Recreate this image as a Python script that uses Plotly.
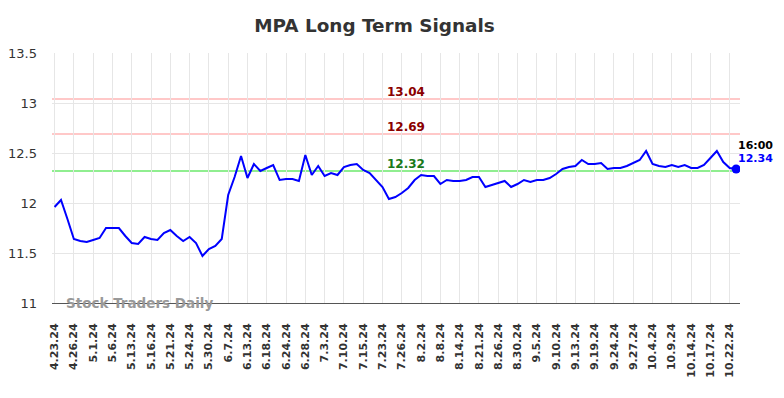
import plotly.graph_objects as go

tick_labels = ["4.23.24", "4.26.24", "5.1.24", "5.6.24", "5.13.24", "5.16.24", "5.21.24", "5.24.24",
               "5.30.24", "6.7.24", "6.13.24", "6.18.24", "6.24.24", "6.28.24", "7.3.24", "7.10.24",
               "7.15.24", "7.23.24", "7.26.24", "8.2.24", "8.8.24", "8.14.24", "8.21.24", "8.26.24",
               "8.30.24", "9.5.24", "9.10.24", "9.13.24", "9.19.24", "9.24.24", "9.27.24", "10.4.24",
               "10.9.24", "10.14.24", "10.17.24", "10.22.24"]

prices = [11.96, 12.03, 11.84, 11.64, 11.62, 11.61, 11.63, 11.65, 11.75, 11.75,
          11.75, 11.67, 11.60, 11.59, 11.66, 11.64, 11.63, 11.70, 11.73, 11.67,
          11.62, 11.66, 11.60, 11.47, 11.54, 11.57, 11.64, 12.08, 12.26, 12.47,
          12.25, 12.39, 12.32, 12.35, 12.38, 12.23, 12.24, 12.24, 12.22, 12.48,
          12.28, 12.37, 12.27, 12.30, 12.28, 12.36, 12.38, 12.39, 12.33, 12.30,
          12.23, 12.16, 12.04, 12.06, 12.10, 12.15, 12.23, 12.28, 12.27, 12.27,
          12.19, 12.23, 12.22, 12.22, 12.23, 12.26, 12.26, 12.16, 12.18, 12.20,
          12.22, 12.16, 12.19, 12.23, 12.21, 12.23, 12.23, 12.25, 12.29, 12.34,
          12.36, 12.37, 12.43, 12.39, 12.39, 12.40, 12.34, 12.35, 12.35, 12.37,
          12.40, 12.43, 12.52, 12.39, 12.37, 12.36, 12.38, 12.36, 12.38, 12.35,
          12.35, 12.38, 12.45, 12.52, 12.41, 12.35, 12.34]

levels = [13.04, 12.69, 12.32]
level_line_colors = ["#ffc8c8", "#ffc8c8", "#90ee90"]
level_text_colors = ["#8b0000", "#8b0000", "#1a7a1a"]
last_time = "16:00"
last_price_label = "12.34"

idx = list(range(len(prices)))
tick_step = 3
tickvals = [i * tick_step for i in range(len(tick_labels))]
FONT = "DejaVu Sans"

fig = go.Figure()
for lv, lc in zip(levels, level_line_colors):
    fig.add_shape(type="line", xref="paper", x0=0, x1=1, yref="y", y0=lv, y1=lv,
                  line=dict(color=lc, width=2), layer="below")

fig.add_trace(go.Scatter(x=idx, y=prices, mode="lines",
                         line=dict(color="#0000ff", width=2), hoverinfo="skip"))
fig.add_trace(go.Scatter(x=[idx[-1]], y=[prices[-1]], mode="markers",
                         marker=dict(color="#0000ff", size=9), hoverinfo="skip"))

for lv, tc in zip(levels, level_text_colors):
    fig.add_annotation(x=54.6, y=lv, xref="x", yref="y", text=f"<b>{lv:.2f}</b>",
                       showarrow=False, yanchor="bottom", yshift=-2,
                       font=dict(family=FONT, size=12, color=tc))

fig.add_annotation(x=1.0, y=prices[-1], xref="paper", yref="y", text=f"<b>{last_time}</b>",
                   showarrow=False, xanchor="left", yanchor="bottom", xshift=-4, yshift=15,
                   font=dict(family=FONT, size=11, color="#000000"))
fig.add_annotation(x=1.0, y=prices[-1], xref="paper", yref="y", text=f"<b>{last_price_label}</b>",
                   showarrow=False, xanchor="left", yanchor="bottom", xshift=-4, yshift=2,
                   font=dict(family=FONT, size=11, color="#0000ff"))

fig.add_annotation(x=0.018, y=11, xref="paper", yref="y", text="<b>Stock Traders Daily</b>",
                   showarrow=False, xanchor="left", yanchor="middle",
                   font=dict(family=FONT, size=13.5, color="#999999"))

fig.update_layout(
    width=776, height=390,
    margin=dict(l=44, r=44, t=45, b=95),
    paper_bgcolor="white", plot_bgcolor="white",
    showlegend=False,
    title=dict(text="<b>MPA Long Term Signals</b>", xref="container", x=0.4723, xanchor="center",
               y=0.954, yanchor="middle",
               font=dict(family=FONT, size=18.4, color="#333333")),
    xaxis=dict(range=[-0.4, 106.6], tickmode="array", tickvals=tickvals, ticktext=tick_labels,
               tickangle=-90, showgrid=True, gridcolor="#e6e6e6", gridwidth=1,
               showline=True, linecolor="#555555", linewidth=1, zeroline=False,
               ticks="", ticklabelstandoff=15, automargin=False,
               tickfont=dict(family=FONT, size=11, color="#333333", weight="bold")),
    yaxis=dict(range=[11, 13.5], dtick=0.5, showgrid=True, gridcolor="#e6e6e6", gridwidth=1,
               zeroline=False, showline=False, ticks="", ticklabelstandoff=14, automargin=False,
               tickfont=dict(family=FONT, size=13, color="#333333")),
)

fig.write_html("out.html")
